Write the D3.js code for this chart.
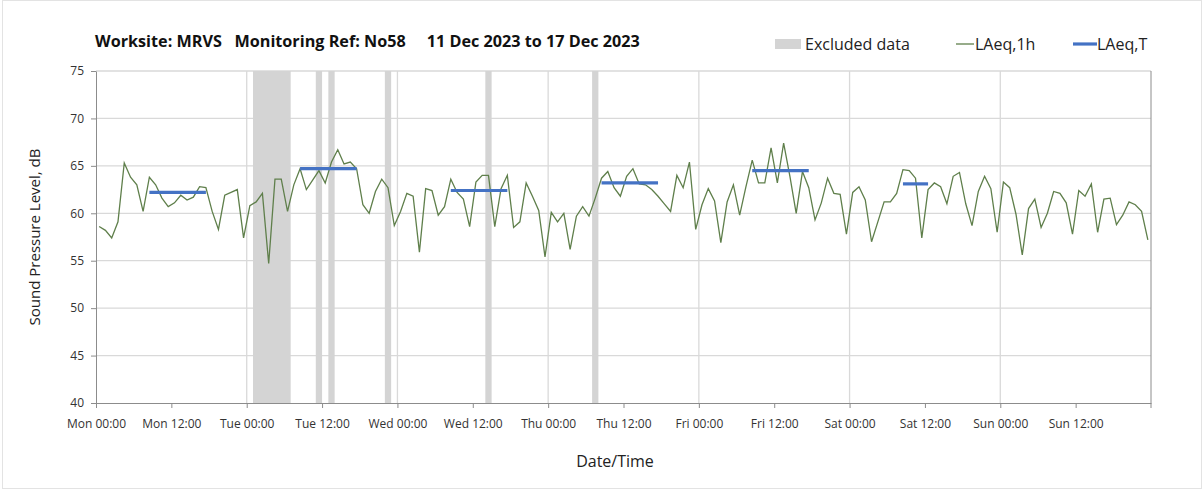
<!DOCTYPE html>
<html>
<head>
<meta charset="utf-8">
<style>
  body { margin: 0; background: #fff; }
  svg { display: block; font-family: "Open Sans", sans-serif; }
</style>
<script src="https://d3js.org/d3.v7.min.js"></script>
</head>
<body>
<svg width="1203" height="492"></svg>
<script>

// hourly LAeq,1h values from Mon 11 Dec 2023 00:00, one per hour (168 hours)
var laeq1h = [
  58.6, 58.2, 57.4, 59.1, 65.3, 63.8, 63.0, 60.2, 63.8, 63.0, 61.6, 60.7,
  61.1, 61.9, 61.4, 61.7, 62.8, 62.7, 60.2, 58.3, 61.9, 62.2, 62.5, 57.4,
  60.8, 61.2, 62.1, 54.7, 63.6, 63.6, 60.2, 63.0, 64.7, 62.5, 63.5, 64.5,
  63.2, 65.4, 66.7, 65.2, 65.4, 64.7, 60.9, 60.0, 62.3, 63.6, 62.7, 58.7,
  60.2, 62.1, 61.8, 55.9, 62.6, 62.4, 59.8, 60.7, 63.6, 62.2, 61.5, 58.6,
  63.3, 64.0, 64.0, 58.6, 62.6, 64.0, 58.5, 59.1, 63.2, 61.8, 60.3, 55.4,
  60.1, 59.1, 60.0, 56.2, 59.7, 60.7, 59.7, 61.6, 63.7, 64.4, 62.7, 61.8,
  63.9, 64.7, 63.1, 63.0, 62.5, 61.8, 61.0, 60.2, 64.0, 62.7, 65.4, 58.3,
  60.9, 62.6, 61.3, 56.9, 61.2, 63.0, 59.8, 62.8, 65.6, 63.2, 63.2, 66.9,
  63.2, 67.4, 63.9, 60.0, 64.4, 62.7, 59.3, 61.1, 63.7, 62.1, 62.0, 57.8,
  62.2, 62.8, 61.4, 57.0, 59.1, 61.2, 61.2, 62.1, 64.6, 64.5, 63.7, 57.4,
  62.5, 63.2, 62.8, 61.0, 63.9, 64.3, 61.0, 58.7, 62.3, 63.9, 62.6, 58.0,
  63.3, 62.7, 59.9, 55.6, 60.5, 61.5, 58.5, 60.0, 62.3, 62.1, 61.1, 57.8,
  62.4, 61.8, 63.1, 58.0, 61.5, 61.6, 58.8, 59.8, 61.2, 60.9, 60.2, 57.2
];

// LAeq,T for each assessment period
var periodStart = ["2023-12-11 08:00", "2023-12-12 08:00", "2023-12-13 08:00",
                   "2023-12-14 08:00", "2023-12-15 08:00", "2023-12-16 08:00"];
var periodEnd   = ["2023-12-11 18:00", "2023-12-12 18:00", "2023-12-13 18:00",
                   "2023-12-14 18:00", "2023-12-15 18:00", "2023-12-16 13:00"];
var laeqT       = [62.2, 64.7, 62.4, 63.2, 64.5, 63.1];

// excluded periods
var excludedStart = ["2023-12-12 01:00", "2023-12-12 11:00", "2023-12-12 13:00",
                     "2023-12-12 22:00", "2023-12-13 14:00", "2023-12-14 07:00"];
var excludedEnd   = ["2023-12-12 07:00", "2023-12-12 12:00", "2023-12-12 14:00",
                     "2023-12-12 23:00", "2023-12-13 15:00", "2023-12-14 08:00"];

var yTicks = [40, 45, 50, 55, 60, 65, 70, 75];

var parseTime = d3.timeParse("%Y-%m-%d %H:%M");
var t0 = parseTime("2023-12-11 00:00"),
    t1 = parseTime("2023-12-18 00:00");

var svg = d3.select("svg");

// faint frame round the chart
svg.append("rect")
    .attr("x", 2.5).attr("y", 0.5)
    .attr("width", 1199).attr("height", 488)
    .attr("fill", "#fff")
    .attr("stroke", "#e3e3e3");

var x = d3.scaleTime()
    .domain([t0, t1])
    .range([96, 1151]);

var y = d3.scaleLinear()
    .domain([40, 75])
    .range([403, 71]);

var halfHour = function(d) { return d3.timeMinute.offset(d, 30); };

// gridlines
svg.append("g")
  .selectAll("line")
  .data(yTicks.slice(1))
  .join("line")
    .attr("x1", x(t0)).attr("x2", x(t1))
    .attr("y1", function(d) { return y(d); })
    .attr("y2", function(d) { return y(d); })
    .attr("stroke", "#d9d9d9")
    .attr("stroke-width", 1.3);

svg.append("g")
  .selectAll("line")
  .data(d3.timeDay.range(d3.timeDay.offset(t0, 1), t1))
  .join("line")
    .attr("x1", function(d) { return x(d); })
    .attr("x2", function(d) { return x(d); })
    .attr("y1", y(40)).attr("y2", y(75))
    .attr("stroke", "#d9d9d9")
    .attr("stroke-width", 1.3);

// excluded data bands
svg.append("g")
  .selectAll("rect")
  .data(excludedStart.map(function(s, i) { return {s: parseTime(s), e: parseTime(excludedEnd[i])}; }))
  .join("rect")
    .attr("x", function(d) { return x(d.s); })
    .attr("width", function(d) { return x(d.e) - x(d.s); })
    .attr("y", y(75))
    .attr("height", y(40) - y(75))
    .attr("fill", "#d4d4d4");

// LAeq,1h line
var line = d3.line()
    .x(function(d) { return x(d.t); })
    .y(function(d) { return y(d.v); });

var hourly = laeq1h.map(function(v, i) {
  return {t: halfHour(d3.timeHour.offset(t0, i)), v: v};
});

svg.append("path")
    .datum(hourly)
    .attr("fill", "none")
    .attr("stroke", "#5f7f4b")
    .attr("stroke-width", 1.3)
    .attr("d", line);

// LAeq,T segments, from middle of first hour to middle of last hour
svg.append("g")
  .selectAll("line")
  .data(laeqT.map(function(v, i) {
    return {s: halfHour(parseTime(periodStart[i])),
            e: d3.timeMinute.offset(parseTime(periodEnd[i]), -30), v: v};
  }))
  .join("line")
    .attr("x1", function(d) { return x(d.s); })
    .attr("x2", function(d) { return x(d.e); })
    .attr("y1", function(d) { return y(d.v); })
    .attr("y2", function(d) { return y(d.v); })
    .attr("stroke", "#4472c4")
    .attr("stroke-width", 3.2);

// axes
var xAxis = svg.append("g")
    .attr("transform", "translate(0," + y(40) + ")")
    .call(d3.axisBottom(x)
      .tickValues(d3.timeHour.every(12).range(t0, t1))
      .tickFormat(d3.timeFormat("%a %H:%M"))
      .tickSizeInner(5).tickSizeOuter(0));
xAxis.selectAll("text").attr("dy", "1.4em");

var yAxis = svg.append("g")
    .attr("transform", "translate(" + x(t0) + ",0)")
    .call(d3.axisLeft(y).tickValues(yTicks).tickSizeInner(5).tickSizeOuter(0));
yAxis.selectAll("text").attr("x", -12);

svg.selectAll(".tick text")
    .style("font-size", "12px")
    .style("font-family", "'Open Sans', sans-serif")
    .attr("fill", "#333");
svg.selectAll(".domain, .tick line").attr("stroke", "#8c8c8c");

// right border
svg.append("line")
    .attr("x1", x(t1)).attr("x2", x(t1))
    .attr("y1", y(75)).attr("y2", y(40) + 5)
    .attr("stroke", "#8c8c8c");

// title
svg.append("text")
    .attr("x", 95).attr("y", 47)
    .style("font-size", "16.2px")
    .style("font-weight", "bold")
    .attr("fill", "#111")
    .attr("xml:space", "preserve")
    .text("Worksite: MRVS   Monitoring Ref: No58     11 Dec 2023 to 17 Dec 2023");

// axis titles
svg.append("text")
    .attr("transform", "translate(40," + ((y(40) + y(75)) / 2) + ") rotate(-90)")
    .style("text-anchor", "middle")
    .style("font-size", "15px")
    .attr("fill", "#222")
    .text("Sound Pressure Level, dB");

svg.append("text")
    .attr("x", 615).attr("y", 467)
    .style("text-anchor", "middle")
    .style("font-size", "16px")
    .attr("fill", "#222")
    .text("Date/Time");

// legend
var legend = svg.append("g").style("font-size", "16px").attr("fill", "#222");
legend.append("rect")
    .attr("x", 775).attr("y", 39).attr("width", 26).attr("height", 10)
    .attr("fill", "#d4d4d4");
legend.append("text").attr("x", 805).attr("y", 50).text("Excluded data");
legend.append("line")
    .attr("x1", 956).attr("x2", 974).attr("y1", 44).attr("y2", 44)
    .attr("stroke", "#5f7f4b").attr("stroke-width", 1.3);
legend.append("text").attr("x", 975).attr("y", 50).text("LAeq,1h");
legend.append("line")
    .attr("x1", 1073).attr("x2", 1097).attr("y1", 44).attr("y2", 44)
    .attr("stroke", "#4472c4").attr("stroke-width", 3.2);
legend.append("text").attr("x", 1097).attr("y", 50).text("LAeq,T");

</script>
</body>
</html>
